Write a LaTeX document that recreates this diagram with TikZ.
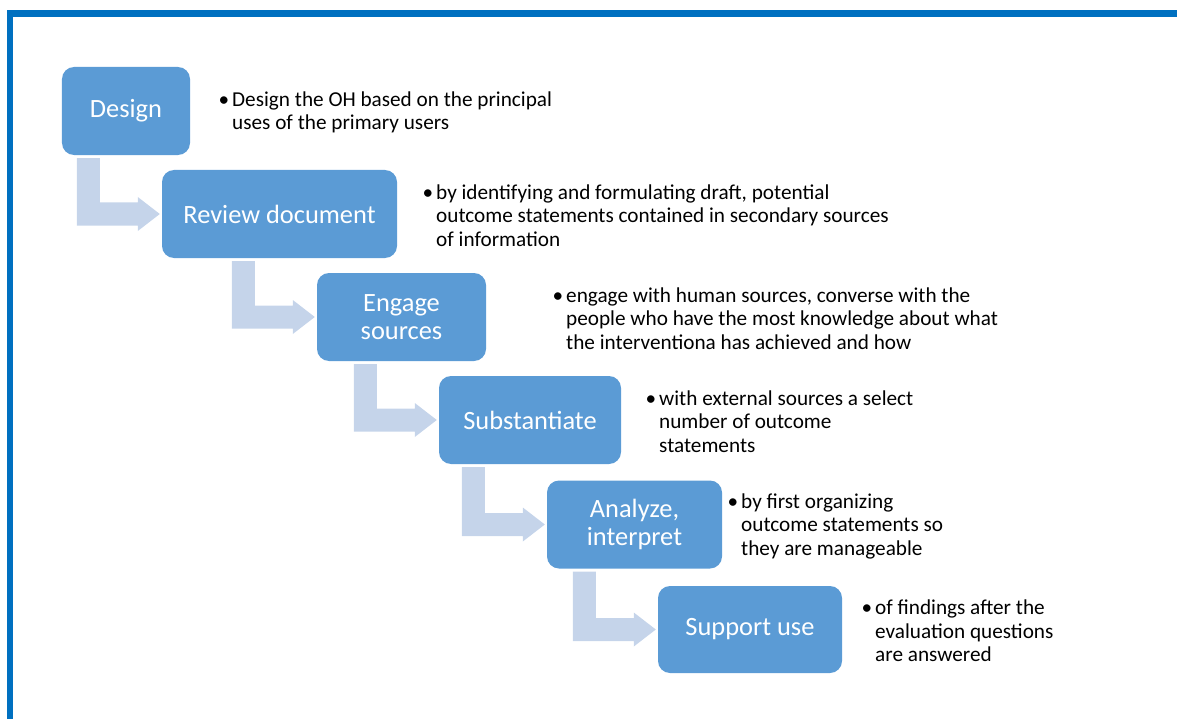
\documentclass[tikz,border=0pt]{standalone}
\usepackage{fontspec}
\setmainfont{Carlito}
\usetikzlibrary{calc}

\definecolor{frameblue}{HTML}{0070C0}
\definecolor{stepblue}{HTML}{5B9BD5}
\definecolor{arrowblue}{HTML}{C5D4EA}

\tikzset{
  stepbox/.style={fill=stepblue, draw=none, rounded corners=12bp,
    text=white, align=center, inner sep=0pt,
    font=\fontsize{26.5}{28.5}\selectfont},
  desc/.style={anchor=west, align=left, inner sep=0pt, text=black,
    font=\fontsize{21.3}{23.6}\selectfont},
  bentarrow/.style={fill=arrowblue, draw=none}
}

% L-shaped arrow leaving the bottom of box #1 and pointing at box #2
\newcommand{\stepconnector}[2]{%
  \fill[bentarrow] let \p1=(#1.south), \p2=(#2.west) in
    (\x2-85bp,\y1-3bp) -- (\x2-85bp,\y2-11.5bp) -- (\x2-24bp,\y2-11.5bp)
    -- (\x2-24bp,\y2-17bp) -- (\x2-2bp,\y2) -- (\x2-24bp,\y2+17bp)
    -- (\x2-24bp,\y2+11.5bp) -- (\x2-62bp,\y2+11.5bp) -- (\x2-62bp,\y1-3bp) -- cycle;}

\newcommand{\bul}{\llap{•\hspace{3bp}}}

\begin{document}
\begin{tikzpicture}[x=1bp, y=-1bp]
  \useasboundingbox (0,0) rectangle (1177,719);

  % frame
  \fill[frameblue] (7,10) rectangle (1177,17);
  \fill[frameblue] (7,10) rectangle (13,719);

  % steps
  \node[stepbox, minimum width=128bp, minimum height=88bp] (design) at (126,111) {Design};
  \node[stepbox, minimum width=235bp, minimum height=88bp] (review) at (279.5,214) {Review document};
  \node[stepbox, minimum width=169bp, minimum height=88bp] (engage) at (401.5,317) {Engage\\sources};
  \node[stepbox, minimum width=182bp, minimum height=88bp] (subst) at (530,420) {Substantiate};
  \node[stepbox, minimum width=175bp, minimum height=88bp] (analyze) at (634.5,524.5) {Analyze,\\interpret};
  \node[stepbox, minimum width=184bp, minimum height=87bp] (support) at (750,629.5) {Support use};

  % connectors
  \stepconnector{design}{review}
  \stepconnector{review}{engage}
  \stepconnector{engage}{subst}
  \stepconnector{subst}{analyze}
  \stepconnector{analyze}{support}

  % descriptions
  \node[desc] (d1) at (232,112.5) {\bul Design the OH based on the principal\\uses of the primary users};
  \node[desc] (d2) at (436,215.5) {\bul by identifying and formulating draft, potential\\outcome statements contained in secondary sources\\of information};
  \node[desc] (d3) at (566,318.5) {\bul engage with human sources, converse with the\\people who have the most knowledge about what\\the interventiona has achieved and how};
  \node[desc] (d4) at (659,421.5) {\bul with external sources a select\\number of outcome\\statements};
  \node[desc] (d5) at (741,526) {\bul by first organizing\\outcome statements so\\they are manageable};
  \node[desc] (d6) at (875,631) {\bul of findings after the\\evaluation questions\\are answered};
\end{tikzpicture}
\end{document}
